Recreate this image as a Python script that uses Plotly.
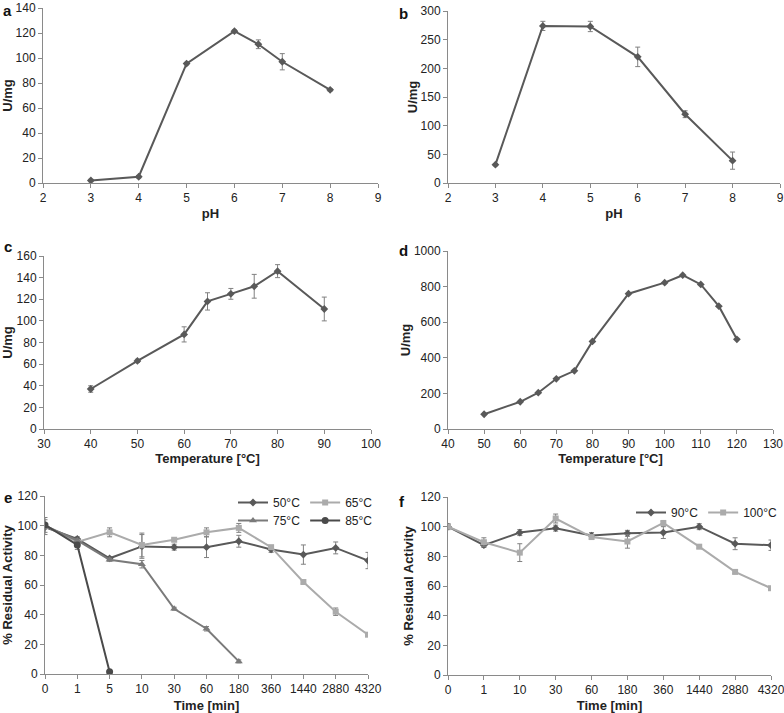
import plotly.graph_objects as go

W, H = 784, 713

# ---- Data ----
ph_a = [3, 4, 5, 6, 6.5, 7, 8]
act_a = [2, 5, 95.5, 121.5, 111, 97, 74.5]
err_a = [1, 1, 1, 1, 3.5, 6.5, 1]

ph_b = [3, 4, 5, 6, 7, 8]
act_b = [32, 274, 273, 220, 120, 39]
err_b = [2, 8, 9, 17, 6, 15]

temp_c = [40, 50, 60, 65, 70, 75, 80, 90]
act_c = [37, 63, 87.5, 118, 125, 132, 146, 111]
err_c = [3, 1.5, 7, 8, 5, 11, 6, 11]

temp_d = [50, 60, 65, 70, 75, 80, 90, 100, 105, 110, 115, 120]
act_d = [83, 153, 204, 282, 327, 492, 760, 822, 864, 812, 690, 504]

time_e = ["0", "1", "5", "10", "30", "60", "180", "360", "1440", "2880", "4320"]
e50 = [99, 91, 78, 86, 85.5, 85.5, 89.5, 84, 80.5, 85, 76.5]
e50_err = [5, 1.5, 1, 8, 2, 7, 4, 2, 6.5, 4, 5.5]
e65 = [100, 89, 95.5, 87, 90.5, 95.5, 98.5, 85.5, 62, 42, 26.5]
e65_err = [1, 1, 3, 8, 1, 3, 3, 1, 1, 2.5, 1]
e75 = [100, 90, 77, 74, 44, 30.5, 8.5]
e75_err = [1, 1, 1, 2.5, 1, 1.5, 1]
e85 = [100.5, 87, 1.5]
e85_err = [5, 3, 0.5]

time_f = ["0", "1", "10", "30", "60", "180", "360", "1440", "2880", "4320"]
f90 = [100, 87.5, 96, 99, 94, 95.5, 96, 100, 88.5, 87.5]
f90_err = [2, 1.5, 2, 2, 2, 2, 4, 2, 4, 3.5]
f100 = [100, 89.5, 82.5, 105.5, 93, 90, 102.5, 86.5, 69.5, 58.5]
f100_err = [1, 3, 6, 3, 1, 4.5, 1, 1, 1, 1]

# ---- Styling ----
FONT = "Liberation Sans, Arial, sans-serif"
AX = "#8a8a8a"
DARK = "#595959"
LIGHT = "#ababab"
MID = "#7a7a7a"
DARKER = "#4a4a4a"
ERRC = "#808080"

def px_dom_x(a, b):
    return [a / W, b / W]

def px_dom_y(top, bottom):
    return [1 - bottom / H, 1 - top / H]

fig = go.Figure()

def err(e, c=ERRC):
    return dict(type="data", array=e, visible=True, color=c, thickness=1, width=2.5)

def add_line(x, y, e, xa, ya, color=DARK, symbol="diamond", size=6, name=None, legend=None, show=False):
    fig.add_trace(go.Scatter(
        x=x, y=y, mode="lines+markers",
        line=dict(color=color, width=2),
        marker=dict(symbol=symbol, size=size, color=color),
        error_y=err(e) if e is not None else None,
        xaxis=xa, yaxis=ya, name=name, showlegend=show,
        legend=legend if legend else "legend",
    ))

add_line(ph_a, act_a, err_a, "x", "y")
add_line(ph_b, act_b, err_b, "x2", "y2")
add_line(temp_c, act_c, err_c, "x3", "y3")
add_line(temp_d, act_d, None, "x4", "y4")

add_line(time_e, e50, e50_err, "x5", "y5", color=DARK, symbol="diamond", size=6, name="50°C", legend="legend", show=True)
add_line(time_e, e65, e65_err, "x5", "y5", color=LIGHT, symbol="square", size=6, name="65°C", legend="legend", show=True)
add_line(time_e[:len(e75)], e75, e75_err, "x5", "y5", color=MID, symbol="triangle-up", size=7, name="75°C", legend="legend2", show=True)
add_line(time_e[:len(e85)], e85, e85_err, "x5", "y5", color=DARKER, symbol="circle", size=7, name="85°C", legend="legend2", show=True)

add_line(time_f, f90, f90_err, "x6", "y6", color=DARK, symbol="diamond", size=6, name="90°C", legend="legend3", show=True)
add_line(time_f, f100, f100_err, "x6", "y6", color=LIGHT, symbol="square", size=6, name="100°C", legend="legend3", show=True)

tickfont = dict(family=FONT, size=12, color="#222")
titlefont = dict(family=FONT, size=13, color="#222", weight="bold")

def axis(dom, anchor, rng, dtick=None, title=None, standoff=4, cat=None):
    d = dict(domain=dom, anchor=anchor, range=rng, showline=True, linecolor=AX, linewidth=1,
             ticks="outside", ticklen=4, tickcolor=AX, showgrid=False, zeroline=False,
             tickfont=tickfont, automargin=False)
    if dtick is not None:
        d["dtick"] = dtick
        d["tick0"] = 0
    if title:
        d["title"] = dict(text=title, font=titlefont, standoff=standoff)
    if cat is not None:
        d["type"] = "category"
        d["categoryorder"] = "array"
        d["categoryarray"] = cat
    return d

legfont = dict(family=FONT, size=12, color="#222")

def leg(xr, ytop):
    return dict(orientation="h", x=xr / W, xanchor="right", y=1 - ytop / H, yanchor="top",
                font=legfont, bgcolor="rgba(0,0,0,0)", itemwidth=30, tracegroupgap=0)

layout = dict(
    width=W, height=H, margin=dict(l=0, r=0, t=0, b=0),
    plot_bgcolor="white", paper_bgcolor="white",
    font=dict(family=FONT, color="#222"),
    xaxis=axis(px_dom_x(43, 378), "y", [2, 9], 1, "pH", standoff=4),
    yaxis=axis(px_dom_y(8, 183), "x", [0, 140], 20, "U/mg", standoff=0),
    xaxis2=axis(px_dom_x(448, 780), "y2", [2, 9], 1, "pH", standoff=4),
    yaxis2=axis(px_dom_y(11, 183), "x2", [0, 300], 50, "U/mg", standoff=0),
    xaxis3=axis(px_dom_x(44, 371), "y3", [30, 100], 10, "Temperature [°C]", standoff=1),
    yaxis3=axis(px_dom_y(256, 429), "x3", [0, 160], 20, "U/mg", standoff=4),
    xaxis4=axis(px_dom_x(448, 773), "y4", [40, 130], 10, "Temperature [°C]", standoff=1),
    yaxis4=axis(px_dom_y(251, 429), "x4", [0, 1000], 200, "U/mg", standoff=0),
    xaxis5=axis(px_dom_x(45, 368), "y5", [0, 10], None, "Time [min]", standoff=6, cat=time_e),
    yaxis5=axis(px_dom_y(496, 674), "x5", [0, 120], 20, "% Residual Activity", standoff=4),
    xaxis6=axis(px_dom_x(448, 771), "y6", [0, 9], None, "Time [min]", standoff=6, cat=time_f),
    yaxis6=axis(px_dom_y(497, 675), "x6", [0, 120], 20, "% Residual Activity", standoff=4),
    legend=leg(378, 488),
    legend2=leg(378, 506),
    legend3=leg(782, 498),
    showlegend=True,
)
fig.update_layout(**layout)

letters = [("a", 1, 0), ("b", 397, 3), ("c", 2, 236), ("d", 397, 240), ("e", 2, 487), ("f", 397, 491)]
for t, x, y in letters:
    fig.add_annotation(text=f"<b>{t}</b>", x=x / W, y=1 - y / H, xref="paper", yref="paper",
                       xanchor="left", yanchor="top", showarrow=False,
                       font=dict(family=FONT, size=15, color="#111"))

fig.write_html("out.html",
               config={"displayModeBar": False},
               post_script="document.body.style.margin='0';document.body.style.padding='0';")
